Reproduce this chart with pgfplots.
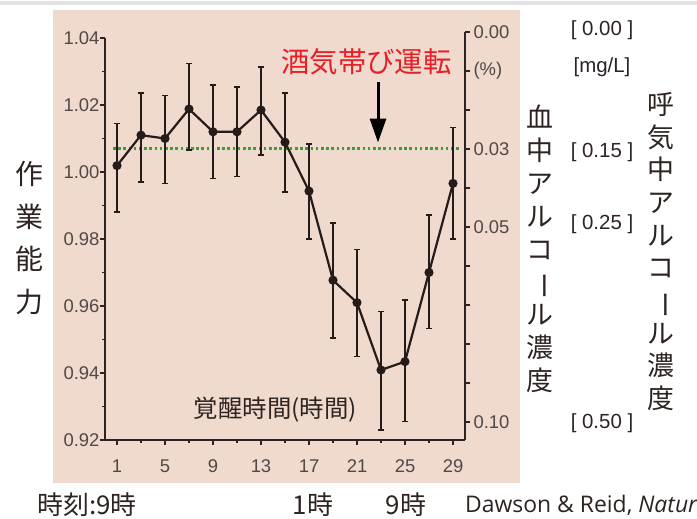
\documentclass[border=0pt]{standalone}
\usepackage{pgfplots}
\pgfplotsset{compat=1.18}
\usepackage{pgfplotstable}
\usetikzlibrary{arrows.meta}
\usepackage{fontspec}
\setmainfont{Liberation Sans}
\newfontfamily\jp{Noto Sans CJK JP}
\newfontfamily\os{Open Sans}
\definecolor{beige}{RGB}{240,218,205}
\definecolor{axc}{RGB}{45,36,34}
\definecolor{tickc}{RGB}{80,72,70}
\definecolor{linec}{RGB}{35,28,26}
\definecolor{redt}{RGB}{232,30,40}
\definecolor{greend}{RGB}{50,160,50}

\pgfplotstableread{
x y ep em
1 1.0019 0.0126 0.0139
3 1.0110 0.0125 0.0140
5 1.0100 0.0128 0.0134
7 1.0188 0.0136 0.0122
9 1.0120 0.0140 0.0140
11 1.0120 0.0133 0.0134
13 1.0185 0.0129 0.0135
15 1.0089 0.0146 0.0149
17 0.9943 0.0140 0.0143
19 0.9677 0.0170 0.0173
21 0.9610 0.0159 0.0161
23 0.9409 0.0174 0.0179
25 0.9434 0.0184 0.0179
27 0.9700 0.0172 0.0167
29 0.9966 0.0167 0.0166
}\data

\newcommand{\vbar}{\rotatebox[origin=c]{-90}{ー}}

\begin{document}
\begin{tikzpicture}
\useasboundingbox (0bp,0bp) rectangle (697bp,519bp);
\clip (0bp,0bp) rectangle (697bp,519bp);
\begin{scope}[x=1bp,y=1bp]
\fill[white] (0,0) rectangle (697,519);
\fill[gray!22] (0,514) rectangle (697,517.5);
\fill[beige] (53,36) rectangle (520,509);
\end{scope}

\begin{axis}[
  at={(105bp,79bp)}, anchor=south west,
  scale only axis, width=360bp, height=408bp,
  xmin=0, xmax=30, ymin=0.92, ymax=1.04179,
  axis x line*=bottom, axis y line*=left,
  axis line style={line width=2bp, color=axc},
  y axis line style={shorten >=6bp},
  xtick={1,5,9,13,17,21,25,29},
  minor xtick={3,7,11,15,19,23,27},
  ytick={0.92,0.94,0.96,0.98,1.00,1.02,1.04},
  minor y tick num=1,
  tick align=outside,
  major tick length=5bp, minor tick length=3bp,
  tick style={line width=1.4bp, color=axc},
  ticklabel style={font=\fontsize{18.5}{20}\selectfont, text=tickc},
  /pgf/number format/assume math mode=true,
  yticklabel style={/pgf/number format/fixed, /pgf/number format/fixed zerofill, /pgf/number format/precision=2, xshift=3bp},
  xticklabel style={yshift=-11bp},
  clip=false,
]
\addplot[greend, line width=3bp, dash pattern=on 2.6bp off 2.6bp] coordinates {(0.67,1.0069) (29.6,1.0069)};
\addplot[color=linec, line width=2.2bp, mark=*, mark size=3.4bp, mark options={solid, fill=linec},
  error bars/.cd, y dir=both, y explicit,
  error bar style={line width=2.2bp, color=linec},
  error mark options={rotate=90, mark size=3.2bp, line width=1.6bp, color=linec}]
  table[x=x, y=y, y error plus=ep, y error minus=em] {\data};
\draw[line width=3bp, -{Triangle[width=16bp,length=24bp]}] (axis cs:22.75,1.0269) -- (axis cs:22.75,1.0088);
\node[text=redt, font=\jp\fontsize{28.5}{30}\selectfont] at (axis cs:21.8,1.0330) {酒気帯び運転};
\node[text=axc, font=\jp\fontsize{24.5}{26}\selectfont] at (axis cs:14.2,0.9292) {覚醒時間(時間)};
\end{axis}

\begin{axis}[
  at={(105bp,79bp)}, anchor=south west,
  scale only axis, width=360bp, height=408bp,
  xmin=0, xmax=30, ymin=0, ymax=0.10462, y dir=reverse,
  hide x axis, axis y line*=right,
  axis line style={line width=2bp, color=axc},
  ytick={0,0.01,0.02,0.03,0.04,0.05,0.06,0.07,0.08,0.09,0.10},
  yticklabels={0.00,(\%),,0.03,,0.05,,,,,0.10},
  tick align=outside, major tick length=5bp,
  tick style={line width=1.4bp, color=axc},
  ticklabel style={font=\fontsize{18.5}{20}\selectfont, text=tickc},
]
\end{axis}

\begin{scope}[x=1bp,y=1bp]
% left label
\node[font=\jp\fontsize{28}{43}\selectfont, align=center, text=axc] at (29,281) {作\\業\\能\\力};
% blood alcohol label
\node[font=\jp\fontsize{27}{33}\selectfont, align=center, text=axc] at (540,270) {血\\中\\ア\\ル\\コ\\\vbar\\ル\\濃\\度};
% breath alcohol label
\node[font=\jp\fontsize{27}{32.8}\selectfont, align=center, text=axc] at (661,267.5) {呼\\気\\中\\ア\\ル\\コ\\\vbar\\ル\\濃\\度};
% breath scale
\begin{scope}[every node/.style={font=\fontsize{20.5}{22}\selectfont, text=axc}]
\node at (602,489) {[ 0.00 ]};
\node at (602,452) {[mg/L]};
\node at (602,367) {[ 0.15 ]};
\node at (602,295) {[ 0.25 ]};
\node at (602,96) {[ 0.50 ]};
\end{scope}
% bottom texts
\begin{scope}[every node/.style={font=\jp\fontsize{26}{28}\selectfont, text=axc}]
\node[anchor=west, inner sep=0] at (37,14) {時刻:9時};
\node at (313,14) {1時};
\node at (406,14) {9時};
\end{scope}
\node[anchor=west, font=\os\fontsize{23}{25}\selectfont, text=axc, inner sep=0] at (465,14) {Dawson \& Reid, \textit{Nature}};
\end{scope}
\end{tikzpicture}
\end{document}
